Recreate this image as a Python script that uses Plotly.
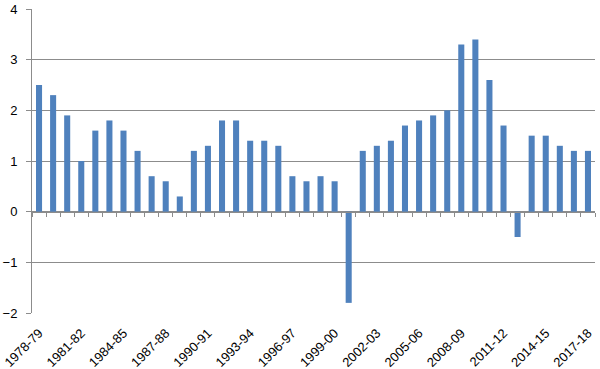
import plotly.graph_objects as go

years = [f"{y}-{str(y+1)[-2:]}" for y in range(1978, 2018)]
values = [2.5, 2.3, 1.9, 1.0, 1.6, 1.8, 1.6, 1.2, 0.7, 0.6,
          0.3, 1.2, 1.3, 1.8, 1.8, 1.4, 1.4, 1.3, 0.7, 0.6,
          0.7, 0.6, -1.8, 1.2, 1.3, 1.4, 1.7, 1.8, 1.9, 2.0,
          3.3, 3.4, 2.6, 1.7, -0.5, 1.5, 1.5, 1.3, 1.2, 1.2]
tick_labels = years[::3]
y_ticks = [-2, -1, 0, 1, 2, 3, 4]

fig = go.Figure()
fig.add_trace(go.Bar(x=years, y=values, marker_color="#4F81BD",
                     marker_line_width=0, xaxis="x", yaxis="y"))
# invisible trace for the zero-line axis carrying the category tick marks
fig.add_trace(go.Scatter(x=years, y=[0]*len(years), xaxis="x2", yaxis="y",
                         mode="lines", line=dict(width=0), hoverinfo="skip",
                         showlegend=False))

xfont = dict(family="Liberation Sans, Arial, sans-serif", size=13, color="#000000")
yfont = dict(family="Liberation Sans, Arial, sans-serif", size=13, color="#000000")
fig.update_layout(
    width=600, height=369,
    margin=dict(l=32, r=5, t=9, b=56),
    paper_bgcolor="white", plot_bgcolor="white",
    showlegend=False, bargap=0.57,
    font=yfont,
    xaxis=dict(type="category", categoryorder="array", categoryarray=years,
               range=[-0.5, 39.5], tickmode="array", tickvals=tick_labels,
               ticktext=tick_labels, tickangle=-45, showgrid=False,
               showline=False, ticks="", tickfont=xfont, anchor="y",
               ticklabelstandoff=9, automargin=False, fixedrange=True),
    xaxis2=dict(type="category", categoryorder="array", categoryarray=years,
                range=[-0.5, 39.5], overlaying="x", anchor="free",
                position=2/6, showticklabels=False, showgrid=False,
                showline=True, linecolor="#8c8c8c", linewidth=1,
                ticks="outside", ticklen=4, tickcolor="#8c8c8c",
                tickson="boundaries", tickmode="linear", dtick=1,
                automargin=False),
    yaxis=dict(range=[-2, 4], tickvals=y_ticks, showgrid=True,
               gridcolor="#8c8c8c", gridwidth=1, zeroline=False,
               showline=True, linecolor="#8c8c8c", linewidth=1,
               ticks="outside", ticklen=5, tickcolor="#8c8c8c",
               ticklabelstandoff=6,
               tickfont=yfont, domain=[0, 1], automargin=False),
)

fig.write_html("out.html", config={"displayModeBar": False},
               post_script="document.body.style.margin='0';")
